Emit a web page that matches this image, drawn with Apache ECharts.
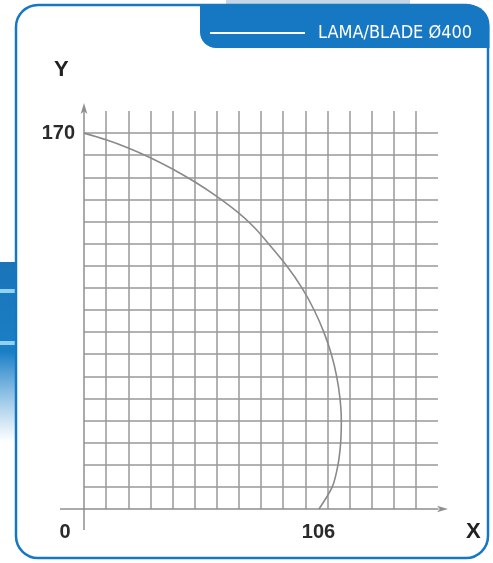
<!DOCTYPE html>
<html>
<head>
<meta charset="utf-8">
<script src="https://cdn.jsdelivr.net/npm/echarts@6/dist/echarts.min.js"></script>
<style>
html,body{margin:0;padding:0;background:#fff;}
#chart{width:493px;height:563px;}
</style>
</head>
<body>
<div id="chart"></div>
<script>
// ---- data ----
const seriesName = 'LAMA/BLADE Ø400';
const bladeX = [0, 10, 20, 30, 40, 50, 60, 70, 77, 83.4, 91.6, 98.5, 104.0, 108.4, 111.8, 114.2, 115.7, 116.3, 116.0, 114.8, 112.2, 106.2];
const bladeY = [170, 167, 163.3, 158.9, 153.8, 148, 141.4, 133.8, 127.3, 120, 110, 100, 90, 80, 70, 60, 50, 40, 30, 20, 10, 0];
const xTickLabels = [0, 106];
const yTickLabels = [170];
const xMax = 160, yMax = 180, step = 10;

const blue = '#1677c3';
const labelFont = "'Liberation Sans', Arial, sans-serif";
const narrowFont = "'Liberation Sans Narrow', 'DejaVu Sans Condensed', 'Liberation Sans', sans-serif";

const chart = echarts.init(document.getElementById('chart'), null, {renderer: 'canvas'});
const points = bladeX.map((x, i) => [x, bladeY[i]]);

const option = {
  animation: false,
  backgroundColor: '#fff',
  grid: {left: 84, right: 55, top: 111, bottom: 54, containLabel: false},
  legend: {
    selectedMode: false,
    left: 205, top: 19,
    itemWidth: 95, itemHeight: 2,
    icon: 'rect',
    itemStyle: {color: '#fff'},
    textStyle: {color: '#fff', fontSize: 18, fontFamily: narrowFont, padding: [0, 0, 0, 8]},
    data: [seriesName]
  },
  xAxis: {
    type: 'value', min: 0, max: xMax, interval: step,
    axisLine: {show: true, onZero: false, lineStyle: {color: '#8f8f8f', width: 1.5},
      symbol: ['none', 'arrow'], symbolSize: [5, 11], symbolOffset: [0, 10]},
    axisTick: {show: false},
    axisLabel: {
      show: true, customValues: xTickLabels, margin: 13,
      fontSize: 20, fontWeight: 'bold', color: '#2a2a2a', fontFamily: labelFont,
      formatter: v => v === 0 ? '{o|0}' : String(v),
      rich: {o: {fontSize: 20, fontWeight: 'bold', color: '#2a2a2a', fontFamily: labelFont, padding: [0, 38, 0, 0]}}
    },
    splitLine: {show: true, showMinLine: false, showMaxLine: false, lineStyle: {color: '#999', width: 1.5}}
  },
  yAxis: {
    type: 'value', min: 0, max: yMax, interval: step,
    axisLine: {show: true, onZero: false, lineStyle: {color: '#8f8f8f', width: 1.5},
      symbol: ['none', 'arrow'], symbolSize: [5, 11], symbolOffset: [0, 8]},
    axisTick: {show: false},
    axisLabel: {
      show: true, customValues: yTickLabels, margin: 9,
      fontSize: 20, fontWeight: 'bold', color: '#2a2a2a', fontFamily: labelFont,
      padding: [8, 0, 0, 0]
    },
    splitLine: {show: true, showMinLine: false, showMaxLine: false, lineStyle: {color: '#999', width: 1.5}}
  },
  graphic: [
    // left blue strip outside the card
    {type: 'rect', z: 0, shape: {x: 0, y: 262, width: 16, height: 180},
      style: {fill: new echarts.graphic.LinearGradient(0, 0, 0, 1, [
        {offset: 0, color: '#1a74b8'}, {offset: 0.5, color: '#1b7fc6'}, {offset: 1, color: 'rgba(60,150,215,0)'}])}},
    {type: 'rect', z: 0, shape: {x: 0, y: 289, width: 16, height: 4}, style: {fill: '#8fd2f2'}},
    {type: 'rect', z: 0, shape: {x: 0, y: 341, width: 16, height: 4}, style: {fill: '#8fd2f2'}},
    // light bar at the very top
    {type: 'rect', z: 0, shape: {x: 226, y: 0, width: 184, height: 6}, style: {fill: '#c6d6e6'}},
    // card
    {type: 'rect', z: 0, shape: {x: 16, y: 5, width: 472, height: 553, r: 22},
      style: {fill: '#fff', stroke: blue, lineWidth: 2.5}},
    // legend tab
    {type: 'rect', z: 1, shape: {x: 200, y: 5, width: 289.5, height: 43, r: [0, 20, 0, 16]},
      style: {fill: blue}},
    // axis extensions past the origin
    {type: 'line', z: 1, shape: {x1: 60, y1: 509, x2: 84, y2: 509}, style: {stroke: '#8f8f8f', lineWidth: 1.5}},
    {type: 'line', z: 1, shape: {x1: 84, y1: 509, x2: 84, y2: 530}, style: {stroke: '#8f8f8f', lineWidth: 1.5}},
    // axis names
    {type: 'text', z: 5, left: 54, top: 59, style: {text: 'Y', font: "bold 22px 'Liberation Sans', Arial, sans-serif", fill: '#222'}},
    {type: 'text', z: 5, left: 466, top: 521, style: {text: 'X', font: "bold 22px 'Liberation Sans', Arial, sans-serif", fill: '#222'}}
  ],
  series: [{
    name: seriesName,
    type: 'line',
    data: points,
    smooth: 0.3,
    symbol: 'none',
    lineStyle: {color: '#8a8a8a', width: 1.6},
    itemStyle: {color: '#fff'},
    z: 3
  }]
};
chart.setOption(option);
</script>
</body>
</html>
